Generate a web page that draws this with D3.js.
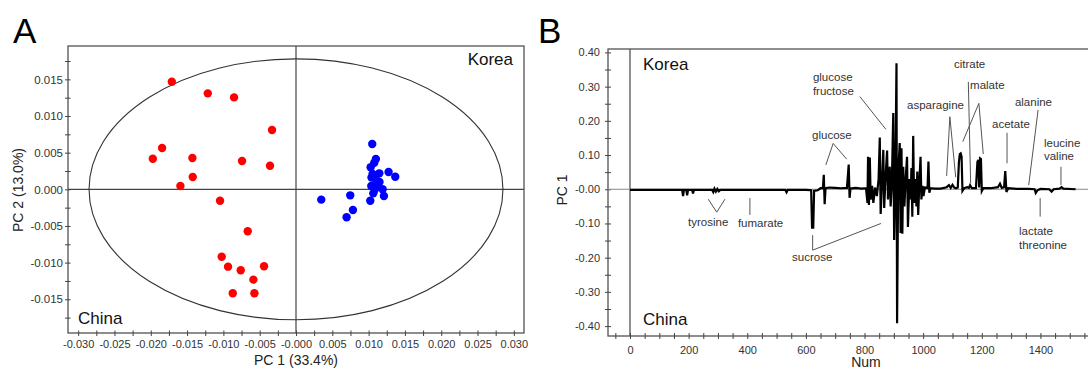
<!DOCTYPE html>
<html>
<head>
<meta charset="utf-8">
<script src="https://cdn.jsdelivr.net/npm/d3@7"></script>
<style>
  body { margin: 0; background: #fff; }
  svg { display: block; font-family: "Liberation Sans", Arial, sans-serif; }
</style>
</head>
<body>
<div id="chart"></div>
<script>
// Panel A: PCA scores
const chinaPC1 = [-0.0171, -0.01215, -0.00853, -0.0033, -0.01844, -0.01972, -0.01427, -0.00743, -0.00358, -0.01422,
  -0.01592, -0.01046, -0.00665, -0.01023, -0.00936, -0.00761, -0.0044, -0.00587, -0.00871, -0.00573];
const chinaPC2 = [0.01467, 0.01309, 0.01254, 0.00809, 0.00563, 0.00417, 0.00427, 0.00386, 0.00322, 0.00168,
  0.00045, -0.00155, -0.00573, -0.00919, -0.01055, -0.01105, -0.0105, -0.01232, -0.01418, -0.01418];
const koreaPC1 = [0.0105, 0.0110, 0.01078, 0.01028, 0.01055, 0.01147, 0.01275, 0.01367, 0.0110, 0.01037, 0.0111,
  0.01087, 0.01193, 0.01064, 0.01211, 0.01023, 0.00747, 0.00348, 0.00784, 0.00697, 0.0115, 0.0104];
const koreaPC2 = [0.00618, 0.00413, 0.00363, 0.003, 0.00209, 0.00218, 0.00236, 0.00172, 0.00136, 0.00045, 0.00059,
  0.0, 0.0, -0.00055, -0.00091, -0.00155, -0.00082, -0.00141, -0.00282, -0.00382, 0.001, 0.0016];
const ellipseRadii = [0.0285, 0.0178];
const scoreXTicks = [-0.03, -0.025, -0.02, -0.015, -0.01, -0.005, 0, 0.005, 0.01, 0.015, 0.02, 0.025, 0.03];
const scoreYTicks = [-0.015, -0.01, -0.005, 0, 0.005, 0.01, 0.015];

// Panel B: PC1 loadings along the spectrum
const loadingNum = [0, 60, 120, 178, 181, 184, 192, 195, 198, 212, 215, 218,
  280, 284, 288, 293, 298, 303, 308, 400, 530, 534, 538,
  600, 618, 621, 625, 628, 640, 650, 658, 661, 664, 667,
  680, 700, 720, 740, 746, 749, 752, 770, 790,
  805, 810, 812, 815, 818, 821, 826, 830, 836, 842, 848, 852, 855, 860, 864, 867, 872, 877, 880, 886, 889, 893,
  898, 901, 905, 909, 911, 915, 920, 923, 926, 929, 932, 936, 941, 945, 948, 953, 957, 960, 963, 966, 969,
  974, 977, 980, 983, 987, 991, 994, 998, 1001, 1006, 1015, 1018, 1021, 1025,
  1040, 1060, 1080, 1088, 1094, 1100, 1106, 1112,
  1118, 1122, 1125, 1128, 1131, 1134, 1140,
  1150, 1156, 1160, 1166, 1180, 1185, 1188, 1191, 1194, 1197, 1200, 1205,
  1230, 1255, 1262, 1268, 1276, 1280, 1284, 1290,
  1320, 1360, 1380, 1384, 1390, 1400, 1430, 1438, 1445, 1465, 1472, 1478, 1520];
const loadingPC1 = [-0.002, -0.002, -0.002, -0.002, -0.02, -0.002, -0.002, -0.018, -0.002, -0.002, -0.012, -0.002,
  -0.002, -0.008, 0.002, -0.007, 0.001, -0.006, -0.002, -0.002, -0.002, -0.009, -0.002,
  -0.002, -0.003, -0.112, -0.112, -0.005, -0.003, 0.003, 0.003, 0.042, -0.044, 0.003,
  0.005, 0.004, 0.003, 0.004, 0.072, -0.025, 0.002, 0.004, 0.002,
  0.003, -0.04, 0.095, -0.046, 0.093, -0.03, 0.01, -0.04, 0.005, -0.02, 0.03, 0.151, -0.072, 0.03, 0.115, -0.055, 0.04, 0.113, -0.03, 0.066, -0.05, 0.01,
  0.223, -0.148, 0.02, 0.368, -0.392, 0.05, 0.135, -0.128, 0.12, -0.13, 0.066, -0.05, 0.04, 0.095, -0.11, 0.03, -0.03, 0.062, -0.08, 0.156, -0.04,
  0.03, -0.05, 0.052, -0.075, 0.02, 0.095, -0.03, 0.01, -0.02, 0.005, 0.004, 0.081, -0.01, 0.003,
  0.002, 0.002, 0.006, 0.012, 0.004, 0.013, 0.005, 0.003,
  0.005, 0.08, 0.103, 0.105, 0.095, -0.005, 0.003,
  0.006, 0.004, 0.012, 0.003, 0.003, 0.08, 0.086, 0.005, 0.09, 0.088, -0.005, 0.003,
  0.003, 0.006, 0.016, 0.004, 0.006, 0.053, -0.008, 0.003,
  0.001, 0.001, 0.0, -0.011, -0.003, 0.001, 0.0, -0.007, 0.0, 0.002, 0.006, 0.002, 0.0];
const numMinorTicks = d3.range(-50, 1700, 50);
const numTicks = [0, 200, 400, 600, 800, 1000, 1200, 1400];
const loadTicks = [0.4, 0.3, 0.2, 0.1, 0, -0.1, -0.2, -0.3, -0.4];
const loadMinorTicks = d3.range(-0.4, 0.41, 0.05);

const W = 1088, H = 369;
const svg = d3.select('#chart').append('svg').attr('width', W).attr('height', H);
svg.append('rect').attr('width', W).attr('height', H).attr('fill', '#fff');

const frameColor = '#444', tickColor = '#333';
// plain hyphen minus, "-0.00" style zero as in the original
const fixed = k => d => (Math.abs(d) < 1e-9 ? '-' + (0).toFixed(k) : d.toFixed(k));

function crossTicks(g, dir, len) {
  g.select('.domain').remove();
  g.selectAll('.tick line').attr('stroke', frameColor);
  if (dir === 'y') g.selectAll('.tick line').attr('x1', -len).attr('x2', len);
  else g.selectAll('.tick line').attr('y1', -len).attr('y2', len);
}

// ---------- Panel A ----------
const ax = d3.scaleLinear().domain([-0.0314, 0.0314]).range([68, 524]);
const ay = d3.scaleLinear().domain([-0.0196, 0.01955]).range([333, 46]);
const A = svg.append('g');

A.append('g').attr('transform', 'translate(0,333)')
  .call(d3.axisBottom(ax).tickValues(d3.range(-0.03, 0.0301, 0.0025)).tickFormat('').tickSize(0))
  .call(g => { g.select('.domain').remove(); g.selectAll('.tick line').attr('y1', -2.5).attr('y2', 3).attr('stroke', frameColor); });
A.append('g').attr('transform', 'translate(0,333)')
  .call(d3.axisBottom(ax).tickValues(scoreXTicks).tickSize(0).tickPadding(7).tickFormat(fixed(3)))
  .call(g => { g.select('.domain').remove(); g.selectAll('text').attr('fill', tickColor).style('font-size', '11px'); });
A.append('g').attr('transform', 'translate(68,0)')
  .call(d3.axisLeft(ay).tickValues(d3.range(-0.0175, 0.0176, 0.0025)).tickFormat('').tickSize(0))
  .call(g => { g.select('.domain').remove(); g.selectAll('.tick line').attr('x1', -3).attr('x2', 2.5).attr('stroke', frameColor); });
A.append('g').attr('transform', 'translate(68,0)')
  .call(d3.axisLeft(ay).tickValues(scoreYTicks).tickSize(0).tickPadding(5).tickFormat(d => d.toFixed(3)))
  .call(g => { g.select('.domain').remove(); g.selectAll('text').attr('fill', tickColor).style('font-size', '11.5px'); });

A.append('rect').attr('x', 68).attr('y', 46).attr('width', 456).attr('height', 287)
  .attr('fill', 'none').attr('stroke', frameColor).attr('stroke-width', 1.2);
A.append('line').attr('x1', ax(0)).attr('x2', ax(0)).attr('y1', 46).attr('y2', 333).attr('stroke', frameColor).attr('stroke-width', 1.2);
A.append('line').attr('x1', 68).attr('x2', 524).attr('y1', ay(0)).attr('y2', ay(0)).attr('stroke', frameColor).attr('stroke-width', 1.2);

A.append('ellipse').attr('cx', ax(0)).attr('cy', ay(0))
  .attr('rx', ax(ellipseRadii[0]) - ax(0)).attr('ry', ay(0) - ay(ellipseRadii[1]))
  .attr('fill', 'none').attr('stroke', '#333').attr('stroke-width', 1.1);

A.append('g').selectAll('circle').data(chinaPC1).join('circle')
  .attr('cx', d => ax(d)).attr('cy', (d, i) => ay(chinaPC2[i])).attr('r', 4.2).attr('fill', '#ff0000');
A.append('g').selectAll('circle').data(koreaPC1).join('circle')
  .attr('cx', d => ax(d)).attr('cy', (d, i) => ay(koreaPC2[i])).attr('r', 4.2).attr('fill', '#0000ff');

A.append('text').attr('x', 513).attr('y', 65).attr('text-anchor', 'end').style('font-size', '17px').attr('fill', '#111').text('Korea');
A.append('text').attr('x', 78).attr('y', 324).style('font-size', '17px').attr('fill', '#111').text('China');
A.append('text').attr('x', 296).attr('y', 365).attr('text-anchor', 'middle').style('font-size', '14px').attr('fill', '#222').text('PC 1 (33.4%)');
A.append('text').attr('transform', 'translate(23,190) rotate(-90)').attr('text-anchor', 'middle')
  .style('font-size', '14px').attr('fill', '#222').text('PC 2 (13.0%)');
A.append('text').attr('x', 13).attr('y', 43).style('font-size', '35px').attr('fill', '#000').text('A');

// ---------- Panel B ----------
const bx = d3.scaleLinear().domain([-75, 1685]).range([608, 1124]);
const by = d3.scaleLinear().domain([-0.429, 0.41]).range([336, 49]);
const B = svg.append('g');

B.append('g').attr('transform', 'translate(0,336)')
  .call(d3.axisBottom(bx).tickValues(numMinorTicks).tickFormat('').tickSize(0))
  .call(g => crossTicks(g, 'x', 3));
B.append('g').attr('transform', 'translate(0,336)')
  .call(d3.axisBottom(bx).tickValues(numTicks).tickSize(0).tickPadding(10).tickFormat(d => String(d)))
  .call(g => { g.select('.domain').remove(); g.selectAll('text').attr('fill', tickColor).style('font-size', '11px'); });
B.append('g').attr('transform', 'translate(608,0)')
  .call(d3.axisLeft(by).tickValues(loadMinorTicks).tickFormat('').tickSize(0))
  .call(g => crossTicks(g, 'y', 3));
B.append('g').attr('transform', 'translate(608,0)')
  .call(d3.axisLeft(by).tickValues(loadTicks).tickSize(0).tickPadding(8).tickFormat(fixed(2)))
  .call(g => { g.select('.domain').remove(); g.selectAll('text').attr('fill', tickColor).style('font-size', '11px'); });

B.append('rect').attr('x', 608).attr('y', 49).attr('width', 516).attr('height', 287)
  .attr('fill', 'none').attr('stroke', frameColor).attr('stroke-width', 1.2);
B.append('line').attr('x1', bx(0)).attr('x2', bx(0)).attr('y1', 49).attr('y2', 336).attr('stroke', frameColor).attr('stroke-width', 1.2);
B.append('line').attr('x1', 608).attr('x2', 1124).attr('y1', by(0)).attr('y2', by(0)).attr('stroke', '#888').attr('stroke-width', 1);

const line = d3.line().x(d => bx(d)).y((d, i) => by(loadingPC1[i]));
B.append('path').datum(loadingNum).attr('d', line)
  .attr('fill', 'none').attr('stroke', '#000').attr('stroke-width', 2.2).attr('stroke-linejoin', 'miter');

// annotations in data units: label lines, label anchor, leader polylines
const notes = [
  { t: ['glucose', 'fructose'], at: [624, 0.316], lines: [[[784, 0.271], [873, 0.175]]] },
  { t: ['glucose'], at: [621, 0.147], lines: [[[668, 0.071], [693, 0.134], [739, 0.088]]] },
  { t: ['asparagine'], at: [945, 0.234], lines: [[[1080, 0.039], [1091, 0.212], [1111, 0.035]]] },
  { t: ['citrate'], at: [1105, 0.354], lines: [[[1154, 0.314], [1162, 0.017]]] },
  { t: ['malate'], at: [1160, 0.292], lines: [[[1135, 0.139], [1190, 0.251], [1205, 0.103]]] },
  { t: ['acetate'], at: [1235, 0.179], lines: [[[1286, 0.165], [1286, 0.076]]] },
  { t: ['alanine'], at: [1313, 0.243], lines: [[[1392, 0.232], [1360, 0.012]]] },
  { t: ['leucine', 'valine'], at: [1412, 0.124], lines: [[[1470, 0.066], [1470, 0.012]]] },
  { t: ['tyrosine'], at: [198, -0.108], lines: [[[267, -0.029], [296, -0.067], [324, -0.029]]] },
  { t: ['fumarate'], at: [368, -0.110], lines: [[[409, -0.026], [409, -0.075]]] },
  { t: ['sucrose'], at: [553, -0.210], lines: [[[623, -0.134], [623, -0.178], [856, -0.1]]] },
  { t: ['lactate', 'threonine'], at: [1327, -0.134], lines: [[[1399, -0.026], [1399, -0.080]]] }
];
const leader = d3.line().x(d => bx(d[0])).y(d => by(d[1]));
notes.forEach(n => {
  n.lines.forEach(l => B.append('path').attr('d', leader(l)).attr('fill', 'none').attr('stroke', '#555').attr('stroke-width', 1));
  const tx = B.append('text').attr('x', bx(n.at[0])).attr('y', by(n.at[1]))
    .style('font-size', '11.5px').attr('fill', '#333');
  n.t.forEach((s, i) => tx.append('tspan').attr('x', bx(n.at[0])).attr('dy', i ? 13.5 : 0).text(s));
});

B.append('text').attr('x', 643).attr('y', 70).style('font-size', '17px').attr('fill', '#111').text('Korea');
B.append('text').attr('x', 643).attr('y', 325).style('font-size', '17px').attr('fill', '#111').text('China');
B.append('text').attr('x', 866).attr('y', 367).attr('text-anchor', 'middle').style('font-size', '14px').attr('fill', '#222').text('Num');
B.append('text').attr('transform', 'translate(567,190) rotate(-90)').attr('text-anchor', 'middle')
  .style('font-size', '14px').attr('fill', '#222').text('PC 1');
B.append('text').attr('x', 538).attr('y', 43).style('font-size', '35px').attr('fill', '#000').text('B');
</script>
</body>
</html>
